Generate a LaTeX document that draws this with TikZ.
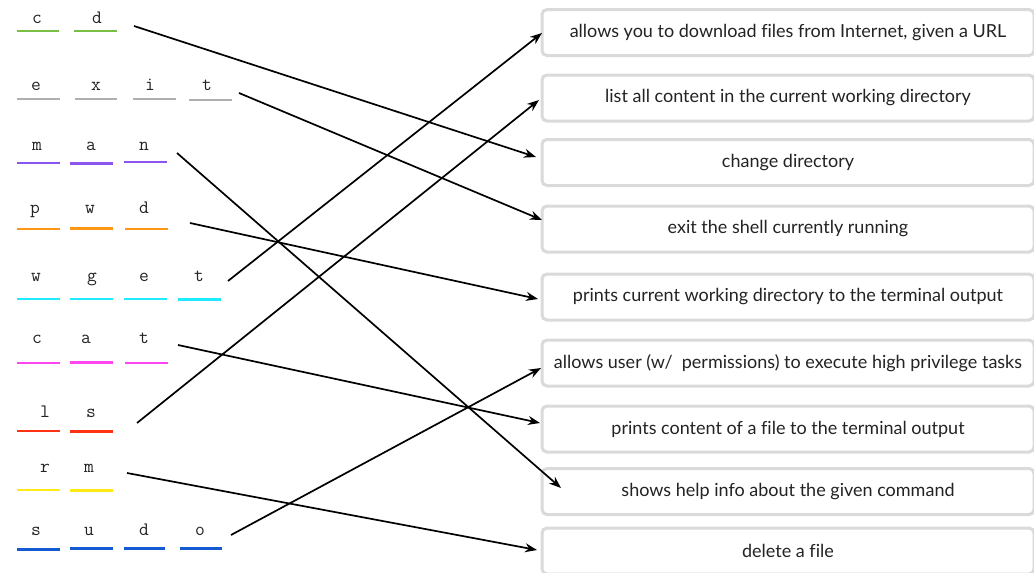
\documentclass[tikz,border=0pt]{standalone}
\usepackage{fontspec}
\setmainfont{Lato}[Ligatures=NoCommon]
\usetikzlibrary{arrows.meta}
\definecolor{cgreen}{RGB}{122,190,70}
\definecolor{cgray}{RGB}{175,175,175}
\definecolor{cpurple}{RGB}{140,85,240}
\definecolor{corange}{RGB}{255,150,20}
\definecolor{ccyan}{RGB}{30,235,255}
\definecolor{cmagenta}{RGB}{255,70,240}
\definecolor{cred}{RGB}{255,50,20}
\definecolor{cyellow}{RGB}{255,235,20}
\definecolor{cblue}{RGB}{20,90,210}
\definecolor{boxline}{RGB}{218,218,218}
\definecolor{txt}{RGB}{35,35,35}
\newcommand{\dtext}[1]{\raisebox{-2pt}{#1}}
\begin{document}
\begin{tikzpicture}[x=1pt,y=-1pt,
  letter/.style={font=\ttfamily\fontsize{19}{19}\selectfont, text=txt, inner sep=0pt, anchor=base},
  uline/.style={line width=2.5pt},
  desc/.style={draw=boxline, line width=3pt, rounded corners=5pt, fill=white,
    minimum width=492pt, minimum height=46pt, inner sep=0pt,
    font=\fontsize{18}{21}\selectfont, text=txt},
  link/.style={line width=1.7pt, -{Stealth[length=12pt,width=9pt]}}]
\useasboundingbox (0,0) rectangle (1034,573);

% ---- description boxes ----
\node[desc] (b1) at (788,32.5) {\dtext{allows you to download files from Internet, given a URL}};
\node[desc] (b2) at (788,98) {\dtext{list all content in the current working directory}};
\node[desc] (b3) at (788,162.5) {\dtext{change directory}};
\node[desc] (b4) at (788,229) {\dtext{exit the shell currently running}};
\node[desc] (b5) at (788,297) {\dtext{prints current working directory to the terminal output}};
\node[desc] (b6) at (788,363) {\dtext{allows user (w/\ \ permissions) to execute high privilege tasks}};
\node[desc] (b7) at (788,429) {\dtext{prints content of a file to the terminal output}};
\node[desc] (b8) at (788,491.5) {\dtext{shows help info about the given command}};
\node[desc] (b9) at (788,551) {\dtext{delete a file}};

% ---- letters and blanks ----
% cd
\node[letter] (cd1) at (37,23.5) {c};
\node[letter] (cd2) at (97,23.5) {d};
\draw[uline,cgreen] (17,31) -- (59,31) (74,31) -- (117,31);
% exit
\node[letter] (ex1) at (36,90) {e};
\node[letter] (ex2) at (96,90) {x};
\node[letter] (ex3) at (150,90) {i};
\node[letter] (ex4) at (207,90) {t};
\draw[uline,cgray] (17,99) -- (60,99) (75,99) -- (117,99) (133,99) -- (176,99) (189,100) -- (232,100);
% man
\node[letter] (mn1) at (37,150) {m};
\node[letter] (mn2) at (91,150) {a};
\node[letter] (mn3) at (144,150) {n};
\draw[uline,cpurple] (17,163) -- (60,163) (70,163.5) -- (113,163.5) (124,162) -- (167,162);
% pwd
\node[letter] (pw1) at (35,213) {p};
\node[letter] (pw2) at (90,213) {w};
\node[letter] (pw3) at (144,213) {d};
\draw[uline,corange] (17,229) -- (60,229) (70,228.5) -- (113,228.5) (125,229) -- (168,229);
% wget
\node[letter] (wg1) at (36,281.5) {w};
\node[letter] (wg2) at (92,281.5) {g};
\node[letter] (wg3) at (144,281.5) {e};
\node[letter] (wg4) at (199,281.5) {t};
\draw[uline,ccyan] (17,299) -- (60,299) (70,299) -- (113,299) (124,299) -- (167,299) (178,299.5) -- (221,299.5);
% cat
\node[letter] (ct1) at (37,343.5) {c};
\node[letter] (ct2) at (86,343.5) {a};
\node[letter] (ct3) at (144,343.5) {t};
\draw[uline,cmagenta] (17,363) -- (60,363) (70,362.5) -- (113,362.5) (125,363) -- (168,363);
% ls
\node[letter] (ls1) at (45,417.5) {l};
\node[letter] (ls2) at (91,417.5) {s};
\draw[uline,cred] (17,431) -- (60,431) (70,431.5) -- (113,431.5);
% rm
\node[letter] (rm1) at (45,472.5) {r};
\node[letter] (rm2) at (89,472.5) {m};
\draw[uline,cyellow] (17,490) -- (60,490) (70,490.5) -- (113,490.5);
% sudo
\node[letter] (sd1) at (36,535.5) {s};
\node[letter] (sd2) at (89,535.5) {u};
\node[letter] (sd3) at (144,535.5) {d};
\node[letter] (sd4) at (200,535.5) {o};
\draw[uline,cblue] (17,549.5) -- (60,549.5) (70,548.5) -- (113,548.5) (124,548.5) -- (165,548.5) (180,548.5) -- (222,548.5);

% ---- connector ends ----
\coordinate (s-cd) at (134,26);
\coordinate (s-exit) at (239,93);
\coordinate (s-man) at (177,153);
\coordinate (s-pwd) at (190,223);
\coordinate (s-wget) at (228,281);
\coordinate (s-cat) at (178,345);
\coordinate (s-ls) at (137,423);
\coordinate (s-rm) at (127,473);
\coordinate (s-sudo) at (231,535);

\coordinate (t-wget) at (542,33);
\coordinate (t-ls) at (539,100);
\coordinate (t-cd) at (536,157);
\coordinate (t-exit) at (542,220);
\coordinate (t-pwd) at (538,299);
\coordinate (t-sudo) at (541,368);
\coordinate (t-cat) at (540,423);
\coordinate (t-man) at (561,488);
\coordinate (t-rm) at (537,550);

% ---- connectors ----
\draw[link] (s-cd) -- (t-cd);
\draw[link] (s-exit) -- (t-exit);
\draw[link] (s-man) -- (t-man);
\draw[link] (s-pwd) -- (t-pwd);
\draw[link] (s-wget) -- (t-wget);
\draw[link] (s-cat) -- (t-cat);
\draw[link] (s-ls) -- (t-ls);
\draw[link] (s-rm) -- (t-rm);
\draw[link] (s-sudo) -- (t-sudo);
\end{tikzpicture}
\end{document}
